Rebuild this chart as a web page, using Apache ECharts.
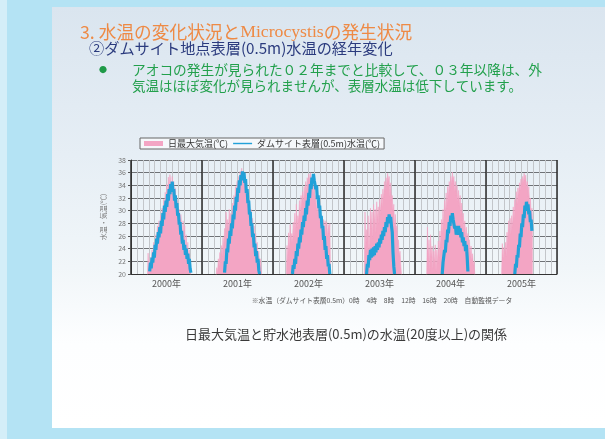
<!DOCTYPE html>
<html>
<head>
<meta charset="utf-8">
<script src="https://cdn.jsdelivr.net/npm/echarts@6/dist/echarts.min.js"></script>
<style>
html,body{margin:0;padding:0;background:#b4e3f4;}
#chart{width:605px;height:439px;}
</style>
</head>
<body>
<div id="chart"></div>
<script>
// Year panels shown along the x axis
const years = ['2000年', '2001年', '2002年', '2003年', '2004年', '2005年'];
const DAYS = 365;       // width of one year panel, in days
const STEP = 4;         // days between samples

// Daily maximum air temperature (℃), one sample every STEP days from airStart
const airStart = [84, 72, 68, 104, 60, 80];
const air2000 = [19, 23.3, 20.2, 21.8, 22.6, 20.4, 23.8, 21.6, 25, 24.1, 22.4, 26.2, 24.8, 27.6, 26.5, 28.4, 25.9, 29.3, 27.8, 30.4, 28.6, 31.8, 30.2, 32.9, 31.4, 34.2, 32.6, 35.3, 33.4, 35.7, 34.6, 32.8, 35.4, 33.2, 34.6, 31.2, 33.6, 29.6, 31.8, 30.6, 28.2, 30.2, 27, 29.4, 28.1, 25.6, 28.4, 24.8, 27.6, 23.8, 26.2, 22.8, 25, 22, 23.8, 21.2, 19.5];
const air2001 = [19.5, 21, 20.2, 22.4, 21.2, 23.4, 21.8, 24.5, 22.8, 25.8, 24, 27.2, 25.4, 29.8, 27, 28.6, 26.8, 30.2, 28.2, 29.6, 27.8, 31.2, 29.6, 32.4, 30.8, 33.8, 31.6, 34.6, 33, 35.4, 34, 36.2, 35, 36.7, 35.6, 36, 34.4, 35.2, 32.8, 33.9, 31.4, 32.6, 30.2, 31.4, 28.6, 30.2, 27.4, 28.8, 26, 27.6, 24.8, 26.4, 23.6, 25, 22.4, 23.6, 21.6, 22.4, 20.8, 19.5];
const air2002 = [19.5, 24.5, 22, 26.5, 23.8, 27.8, 24.6, 26.4, 25, 28.2, 25.8, 29.6, 26.6, 31, 27.4, 29.2, 28.2, 31.6, 29.2, 32.4, 30.4, 33, 31.2, 33.8, 32, 34.6, 33, 35.2, 33.8, 35.8, 34.6, 36, 35, 34.2, 35.2, 32.6, 33.8, 31.2, 32.4, 29.8, 31.6, 29.2, 30.6, 28.2, 29.8, 27.6, 29, 26.8, 28.6, 26.6, 28.4, 26.2, 28.2, 25.8, 27.8, 26.4, 28, 19.5];
const air2003 = [19.5, 29.8, 24, 27, 25, 29.2, 23.4, 26.4, 30.4, 27.2, 29.8, 25.6, 31, 28, 30.2, 26.4, 31.4, 28.6, 30.6, 27.8, 31.8, 29.4, 32.6, 30.6, 33.4, 31.8, 34.6, 33, 35.2, 33.8, 35.9, 34.6, 35.4, 32.2, 34.4, 31.6, 32.4, 29.8, 31, 27.2, 29.4, 26.8, 27.6, 24.6, 25.4, 22.8, 23.6, 21.4, 19.5];
const air2004 = [19.5, 27.4, 22, 25.4, 20.6, 26.2, 22.6, 24.4, 20.8, 23.6, 21.8, 24.6, 20.4, 23.8, 21.6, 25.2, 22.6, 26.8, 24.2, 28.6, 26.4, 30.2, 27.6, 31.6, 29.6, 32.8, 30.4, 33.8, 32.2, 34.6, 33.2, 35.4, 34.2, 36.1, 34.6, 35.4, 33, 34.6, 32.4, 34, 31.4, 33.2, 30.6, 32.4, 29.4, 31.2, 28.4, 29.6, 26.8, 28.4, 26, 27.4, 24.8, 26.4, 24.4, 25.4, 22.6, 24.4, 22.2, 23.2, 21.4, 22, 19.5];
const air2005 = [19.5, 24.8, 22.4, 24.2, 23.2, 25, 22.8, 26.6, 24.6, 28.4, 25.8, 28.8, 26.2, 29.2, 27.4, 30.6, 28.6, 31.8, 30.2, 33, 31, 33.6, 32.4, 34.4, 33.2, 35, 33.8, 35.4, 34.4, 35.9, 34.8, 35.6, 33.6, 34.6, 32.2, 33.8, 30.8, 32, 29.4, 30.4, 28];

// Dam-site surface (0.5 m) water temperature (℃), one sample every STEP days from waterStart
const waterStart = [96, 116, 100, 116, 140, 148];
const water2000 = [20.4, 21.8, 20.9, 22.6, 21.8, 23.4, 22.6, 24.6, 23.8, 25.6, 24.8, 26.6, 25.8, 27.4, 26.4, 28.4, 27.6, 29.6, 28.6, 30.8, 29.8, 31.6, 30.6, 32.6, 31.6, 33.4, 32.6, 34.2, 33.2, 34.6, 33, 33.4, 31.6, 32.4, 30.4, 31.2, 29.2, 29.6, 27.8, 28.2, 26.2, 26.8, 24.8, 25.4, 23.8, 24.6, 23, 24, 22.4, 23.2, 21.6, 22.4, 20.8, 20.2];
const water2001 = [20.2, 22, 21.6, 24, 23.4, 25.6, 24.8, 26.8, 26, 28, 27.2, 29.4, 28.6, 30.8, 30, 32.2, 31.4, 33.6, 32.8, 34.8, 34, 35.6, 34.8, 36.2, 35.2, 36, 34.4, 35, 32.8, 33.4, 31.2, 31.6, 29.4, 29.8, 27.6, 28, 25.8, 26.4, 24.2, 24.8, 22.8, 23.6, 21.8, 22.4, 20.6, 20];
const water2002 = [20, 21.4, 20.8, 22.4, 21.6, 23.6, 22.8, 24.8, 24, 25.8, 25, 27, 26.2, 28.2, 27.4, 29.2, 28.4, 30.4, 29.4, 31.6, 30.8, 32.8, 32, 34.2, 33.4, 35.2, 34.6, 35.8, 34.8, 35, 33.4, 34, 31.8, 32.4, 30.4, 30.8, 28.8, 29.2, 27.2, 27.6, 25.4, 26, 23.8, 24.4, 22.4, 23, 21.2, 21.6, 20];
const water2003 = [20, 21.6, 21, 23, 22.2, 23.8, 22.6, 24, 22.8, 24.2, 23, 24.4, 23.4, 24.8, 23.8, 25, 24.2, 25.6, 24.8, 26.2, 25.4, 26.8, 26, 27.4, 26.6, 28.2, 27.4, 29, 28, 29.4, 28.4, 29, 27.6, 26.6, 23.4, 21.2, 20];
const water2004 = [20, 21.8, 21.6, 23.8, 23.4, 25.4, 25, 27, 26.4, 28.2, 27.6, 29.2, 28.4, 29.6, 28.6, 28.8, 27.2, 27.6, 26.2, 27.2, 26.2, 27.6, 26.4, 27.2, 25.8, 26.6, 25, 25.8, 24.4, 25.2, 23.6, 24.6, 22.8, 20.4];
const water2005 = [20, 21.6, 21, 23, 22.6, 24.6, 24.2, 26.4, 25.8, 28, 27.4, 29.4, 28.8, 30.8, 30, 31.4, 30.4, 31, 29.4, 30, 28.2, 28.6, 26.8];

const airByYear = [air2000, air2001, air2002, air2003, air2004, air2005];
const waterByYear = [water2000, water2001, water2002, water2003, water2004, water2005];

// Lay each year's samples on a continuous day axis, with a gap between years
function toPoints(starts, lists) {
  const pts = [];
  lists.forEach((vals, yi) => {
    vals.forEach((v, i) => pts.push([yi * DAYS + starts[yi] + i * STEP, v]));
    pts.push([yi * DAYS + DAYS - 1, '-']);
  });
  return pts;
}

const JP = '"Noto Sans CJK JP", "Noto Sans", sans-serif';
const chart = echarts.init(document.getElementById('chart'), null, { renderer: 'canvas' });

chart.setOption({
  animation: false,
  backgroundColor: '#b4e3f4',
  textStyle: { fontFamily: JP },
  graphic: [
    { type: 'rect', z: -100, shape: { x: 0, y: 0, width: 7, height: 439 }, style: { fill: '#d4eef8' } },
    {
      type: 'rect', z: -100,
      shape: { x: 52, y: 7, width: 553, height: 421 },
      style: {
        fill: new echarts.graphic.LinearGradient(0, 0, 0, 1, [
          { offset: 0, color: '#dae5ef' },
          { offset: 0.35, color: '#e6eef5' },
          { offset: 0.62, color: '#f1f6f9' },
          { offset: 0.8, color: '#fdfeff' },
          { offset: 1, color: '#ffffff' }
        ])
      }
    },
    {
      type: 'text', x: 80, y: 32,
      style: {
        text: '{a|3. 水温の変化状況と}{b|Microcystis}{a|の発生状況}',
        verticalAlign: 'middle',
        rich: {
          a: { fontSize: 17.7, fontFamily: JP, fill: '#ee8a45', color: '#ee8a45' },
          b: { fontSize: 17.7, fontFamily: '"Liberation Serif", serif', fill: '#ee8a45', color: '#ee8a45' }
        }
      }
    },
    {
      type: 'text', x: 89, y: 48,
      style: { text: '②ダムサイト地点表層(0.5m)水温の経年変化', fontSize: 15.2, fontFamily: JP, fill: '#2b3b7e', verticalAlign: 'middle' }
    },
    {
      type: 'text', x: 99, y: 70,
      style: { text: '●', fontSize: 8, fontFamily: JP, fill: '#1f9a48', verticalAlign: 'middle' }
    },
    {
      type: 'text', x: 132, y: 70,
      style: { text: 'アオコの発生が見られた０２年までと比較して、０３年以降は、外', fontSize: 13.7, fontFamily: JP, fill: '#22a04c', verticalAlign: 'middle' }
    },
    {
      type: 'text', x: 132, y: 86,
      style: { text: '気温はほぼ変化が見られませんが、表層水温は低下しています。', fontSize: 13.5, fontFamily: JP, fill: '#22a04c', verticalAlign: 'middle' }
    },
    {
      type: 'text', x: 382, y: 300,
      style: { text: '※水温（ダムサイト表層0.5m）0時　4時　8時　12時　16時　20時　自動監視データ', fontSize: 6.8, fontFamily: JP, fill: '#555', align: 'center', verticalAlign: 'middle' }
    },
    {
      type: 'text', x: 346, y: 334,
      style: { text: '日最大気温と貯水池表層(0.5m)の水温(20度以上)の関係', fontSize: 13, fontFamily: JP, fill: '#3a3a3a', align: 'center', verticalAlign: 'middle' }
    }
  ],
  legend: {
    left: 140, top: 138,
    orient: 'horizontal',
    itemWidth: 19, itemHeight: 5, itemGap: 5,
    padding: [1, 4],
    borderColor: '#666', borderWidth: 1,
    backgroundColor: 'rgba(255,255,255,0.6)',
    textStyle: { fontSize: 9, color: '#333', fontFamily: JP },
    data: [
      { name: '日最大気温(℃)', icon: 'rect' },
      { name: 'ダムサイト表層(0.5m)水温(℃)', icon: 'path://M0,0L40,0L40,3L0,3Z' }
    ]
  },
  grid: { left: 131, right: 48, top: 160, bottom: 165, containLabel: false },
  xAxis: [
    {
      type: 'value', min: 0, max: DAYS * years.length, interval: DAYS / 12,
      axisLine: { show: true, lineStyle: { color: '#333', width: 1 } },
      axisTick: { show: false }, axisLabel: { show: false },
      splitLine: { show: true, lineStyle: { color: '#c3c6ca', width: 1 } }
    },
    {
      type: 'value', min: 0, max: DAYS * years.length, interval: DAYS,
      axisLine: { show: false }, axisTick: { show: false }, axisLabel: { show: false },
      splitLine: { show: true, lineStyle: { color: '#2a2a2a', width: 1.5 } }
    },
    {
      type: 'category', data: years, boundaryGap: true, position: 'bottom',
      axisLine: { show: false }, axisTick: { show: false },
      axisLabel: { fontSize: 9, color: '#555', margin: 5, fontFamily: JP },
      splitLine: { show: false }
    }
  ],
  yAxis: {
    type: 'value', min: 20, max: 38, interval: 2,
    name: '水温・気温(℃)', nameLocation: 'middle', nameGap: 22, nameRotate: 90,
    nameTextStyle: { fontSize: 7, color: '#777', fontFamily: JP },
    axisLine: { show: true, lineStyle: { color: '#333', width: 1 } },
    axisTick: { show: true, length: 3, lineStyle: { color: '#555' } },
    axisLabel: { fontSize: 7, color: '#777', margin: 5 },
    splitLine: { show: true, lineStyle: { color: '#6f7276', width: 1 } }
  },
  series: [
    {
      name: '日最大気温(℃)', type: 'line', xAxisIndex: 0,
      data: toPoints(airStart, airByYear),
      symbol: 'none', connectNulls: false, silent: true,
      itemStyle: { color: '#f3a5c4' },
      lineStyle: { color: '#f3a5c4', width: 0.6 },
      areaStyle: { color: '#f3a5c4', opacity: 1, origin: 'start' },
      z: 2
    },
    {
      name: 'ダムサイト表層(0.5m)水温(℃)', type: 'line', xAxisIndex: 0,
      data: toPoints(waterStart, waterByYear),
      symbol: 'none', connectNulls: false, silent: true,
      itemStyle: { color: '#22a1d8' },
      lineStyle: { color: '#22a1d8', width: 3.2 },
      z: 3
    }
  ]
});
</script>
</body>
</html>
